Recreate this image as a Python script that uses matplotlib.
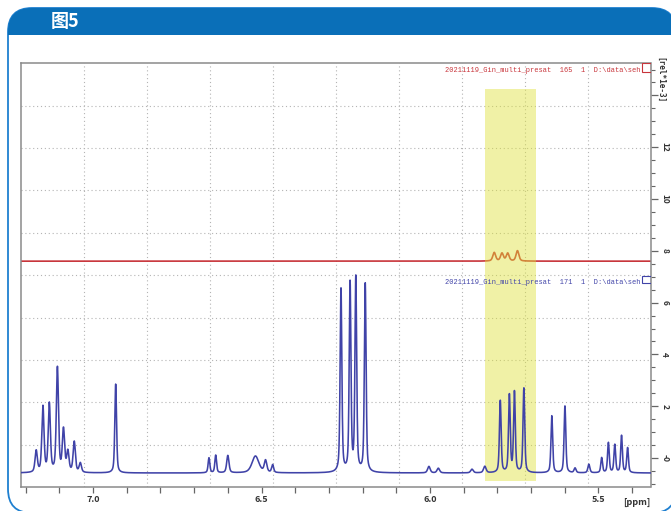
import numpy as np
import matplotlib
matplotlib.use("Agg")
import matplotlib.pyplot as plt
from matplotlib.patches import FancyBboxPatch, Rectangle

plt.rcParams['font.family'] = ['Noto Sans CJK SC', 'DejaVu Sans']

# ---- data ----
title_text = "图5"
x_range = (7.215, 5.345)           # ppm, left -> right
y_range = (-1.12, 15.24)           # rel*1e-3
x_tick_labels = ["7.0", "6.5", "6.0", "5.5"]
x_tick_values = [7.0, 6.5, 6.0, 5.5]
y_tick_values = [0, 2, 4, 6, 8, 10, 12]
y_tick_labels = ["-0", "2", "4", "6", "8", "10", "12"]

blue_baseline = -0.58
blue_ppm = [7.169, 7.149, 7.130, 7.106, 7.088, 7.075, 7.056, 7.038, 6.933,
            6.656, 6.636, 6.600, 6.518, 6.488, 6.467,
            6.264, 6.237, 6.220, 6.192,
            6.003, 5.975, 5.875, 5.837,
            5.791, 5.764, 5.749, 5.721,
            5.638, 5.599, 5.569, 5.528, 5.490, 5.470, 5.451, 5.431, 5.413]
blue_top = [0.25, 1.95, 2.05, 3.45, 1.05, 0.20, 0.60, -0.22, 2.85,
            0.00, 0.10, 0.09, 0.07, -0.12, -0.28,
            6.50, 6.70, 6.90, 6.70,
            -0.33, -0.40, -0.44, -0.33,
            2.20, 2.40, 2.52, 2.68,
            1.62, 2.00, -0.40, -0.25, 0.00, 0.58, 0.50, 0.85, 0.38]
blue_hwhm = [0.004, 0.0038, 0.0038, 0.0038, 0.004, 0.004, 0.004, 0.004, 0.003,
             0.003, 0.003, 0.004, 0.012, 0.0045, 0.0035,
             0.003, 0.003, 0.003, 0.003,
             0.0045, 0.0045, 0.0045, 0.0045,
             0.003, 0.003, 0.003, 0.003,
             0.003, 0.003, 0.0035, 0.0035, 0.003, 0.003, 0.003, 0.003, 0.003]

red_baseline = 7.60
red_ppm = [5.809, 5.786, 5.769, 5.740]
red_top = [7.93, 7.90, 7.90, 8.00]
red_hwhm = [0.005, 0.005, 0.005, 0.005]

highlight_ppm = (5.835, 5.684)
highlight_val = (-0.88, 14.24)

red_label = "20211119_Gin_multi_presat  165  1  D:\\data\\seh"
blue_label = "20211119_Gin_multi_presat  171  1  D:\\data\\seh"


def spectrum(ppm_axis, base, centers, tops, widths):
    # pseudo-Voigt line shapes (half Lorentzian, half Gaussian)
    y = np.full_like(ppm_axis, base)
    for c, t, w in zip(centers, tops, widths):
        d = ppm_axis - c
        lor = w ** 2 / (w ** 2 + d ** 2)
        gau = np.exp(-np.log(2) * (d / w) ** 2)
        y += (t - base) * (0.5 * lor + 0.5 * gau)
    return y


ppm = np.linspace(x_range[0], x_range[1], 8000)
blue_y = spectrum(ppm, blue_baseline, blue_ppm, blue_top, blue_hwhm)
red_y = spectrum(ppm, red_baseline, red_ppm, red_top, red_hwhm)

W, H = 671, 511
fig = plt.figure(figsize=(W / 100, H / 100), dpi=100)
fig.patch.set_facecolor('white')

# ---- background frame / header ----
bg = fig.add_axes([0, 0, 1, 1], zorder=0)
bg.set_xlim(0, W)
bg.set_ylim(H, 0)
bg.axis('off')
frame = FancyBboxPatch((8, 8), 668, 505, boxstyle="round,pad=0,rounding_size=24",
                       fc='white', ec='#1f80d0', lw=1.3)
bg.add_patch(frame)
header = FancyBboxPatch((8, 8), 668, 505, boxstyle="round,pad=0,rounding_size=24",
                        fc='#0a6fb8', ec='none')
bg.add_patch(header)
clip = Rectangle((0, 0), W, 35.5, transform=bg.transData)
header.set_clip_path(clip)
bg.text(51, 21.5, title_text, color='white', fontsize=13, fontweight='bold',
        ha='left', va='center')

# ---- main axes ----
ax = fig.add_axes([20.7 / W, 1 - 487 / H, (650.5 - 20.7) / W, (487 - 63.3) / H], zorder=1)
ax.set_facecolor('white')
ax.set_xlim(*x_range)
ax.set_ylim(*y_range)

# 10 x 10 dotted grid
for i in range(1, 10):
    f = i / 10
    ax.plot([f, f], [0, 1], transform=ax.transAxes, ls=(0, (1, 2.5)),
            color='#b4b4b4', lw=0.8, zorder=0.5)
    ax.plot([0, 1], [f, f], transform=ax.transAxes, ls=(0, (1, 2.5)),
            color='#b4b4b4', lw=0.8, zorder=0.5)

ax.plot(ppm, red_y, color='#c8343a', lw=1.2, zorder=2)
ax.add_patch(Rectangle((highlight_ppm[0], highlight_val[0]),
                       highlight_ppm[1] - highlight_ppm[0],
                       highlight_val[1] - highlight_val[0],
                       fc='#dfe23a', alpha=0.45, ec='none', zorder=3))
ax.plot(ppm, blue_y, color='#4043a8', lw=1.15, zorder=4)

for s in ax.spines.values():
    s.set_color('#8a8a8a')
    s.set_linewidth(1.1)

ax.set_xticks(x_tick_values)
ax.set_xticklabels(x_tick_labels)
ax.set_xticks(np.arange(5.4, 7.25, 0.1), minor=True)
ax.tick_params(axis='x', which='both', direction='out', length=4, width=0.9,
               color='#666666', labelsize=6.5, labelcolor='#333333', pad=2)
for lab in ax.get_xticklabels():
    lab.set_fontweight('bold')

ax.yaxis.tick_right()
ax.set_yticks(y_tick_values + [14])
ax.set_yticklabels(y_tick_labels + [""])
ax.set_yticks(np.arange(-1.0, 15.1, 0.5), minor=True)
ax.tick_params(axis='y', which='major', direction='out', length=5, width=0.9,
               color='#666666', labelsize=6, labelcolor='#333333', pad=2,
               labelrotation=-90)
ax.tick_params(axis='y', which='minor', direction='out', length=3, width=0.8,
               color='#666666')
for lab in ax.get_yticklabels():
    lab.set_fontweight('bold')
    lab.set_va('center')

ax.text(1.0 + 9.5 / 629.8, 1.0 - 17 / 423.7, "[rel*1e-3]", transform=ax.transAxes,
        rotation=-90, ha='center', va='center', fontsize=5.5, fontweight='bold',
        color='#333333', family=['DejaVu Sans Mono'])
ax.text(5.385, -0.026, "[ppm]", transform=ax.get_xaxis_transform(),
        ha='center', va='top', fontsize=6.5, fontweight='bold', color='#333333')

# spectrum labels with small bracket boxes
ax.text(5.376, 14.95, red_label, ha='right', va='center', fontsize=5,
        color='#c8343a', family=['Liberation Mono'], zorder=5)
ax.add_patch(Rectangle((0.986, 0.979), 0.014, 0.021, transform=ax.transAxes,
                       fill=False, ec='#c8343a', lw=0.8, zorder=5))
ax.text(5.376, 6.77, blue_label, ha='right', va='center', fontsize=5,
        color='#4043a8', family=['Liberation Mono'], zorder=5)
ax.add_patch(Rectangle((0.986, 0.4808), 0.014, 0.018, transform=ax.transAxes,
                       fill=False, ec='#4043a8', lw=0.8, zorder=5))

fig.savefig('out.png', dpi=100)
